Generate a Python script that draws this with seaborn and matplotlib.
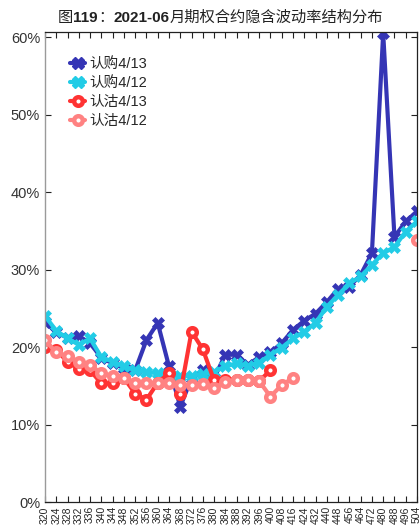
import numpy as np
import pandas as pd
import seaborn as sns
import matplotlib
matplotlib.use("Agg")
import matplotlib.pyplot as plt
from matplotlib.lines import Line2D

# strikes (categorical axis)
strikes = [320, 324, 328, 332, 336, 340, 344, 348, 352, 356, 360, 364, 368, 372,
           376, 380, 384, 388, 392, 396, 400, 408, 416, 424, 432, 440, 448, 456,
           464, 472, 480, 488, 496, 504]

nan = np.nan
# implied vol, percent
call_0413 = [23.2, 21.9, 21.2, 21.4, 20.5, 18.6, 17.9, 17.3, 17.0, 20.9, 23.1, 17.5,
             12.3, 16.0, 17.0, 16.0, 19.0, 19.0, 17.7, 18.7, 19.3, 20.5, 22.2, 23.4,
             24.3, 25.8, 27.5, 27.8, 29.3, 32.1, 60.5, 34.2, 36.2, 37.5]
call_0412 = [24.0, 22.1, 21.1, 20.3, 21.1, 18.7, 18.1, 17.5, 17.0, 16.8, 16.6, 16.5,
             16.2, 16.3, 16.5, 16.8, 17.5, 17.9, 17.6, 18.0, 19.0, 19.9, 21.1, 22.0,
             23.1, 25.2, 26.7, 28.2, 29.1, 30.6, 32.1, 32.9, 34.9, 36.2]
put_0413 = [20.0, 19.6, 18.1, 17.2, 17.0, 15.3, 15.3, 16.0, 14.0, 13.2, 15.4, 16.6,
            14.0, 22.0, 19.7, 15.7, 15.8, 15.8, 15.7, 15.6, 17.0] + [nan] * 13
put_0412 = [20.9, 19.3, 18.8, 18.1, 17.7, 16.6, 16.3, 16.0, 15.4, 15.3, 15.3, 15.3,
            15.1, 15.1, 15.2, 14.7, 15.5, 15.8, 15.7, 15.6, 13.6, 15.1, 16.0] + [nan] * 10 + [33.8]

names = ["认购4/13", "认购4/12", "认沽4/13", "认沽4/12"]
colors = ["#3535B5", "#22CCE6", "#FF3333", "#FF8282"]

sns.set_theme(style="ticks")
plt.rcParams["font.family"] = ["Liberation Sans", "Noto Sans CJK SC", "DejaVu Sans"]

fig = plt.figure(figsize=(4.2, 5.28), dpi=100)
ax = fig.add_axes([45 / 420, 26 / 528, 372 / 420, 470 / 528])

pos = np.arange(len(strikes))


def segments(vals):
    # split series at gaps so the line is not joined across missing strikes
    df = pd.DataFrame({"pos": pos, "val": vals})
    df["seg"] = df["val"].isna().cumsum()
    return df.dropna()


for vals, name, c in zip([call_0413, call_0412, put_0413, put_0412], names, colors):
    df = segments(vals)
    if name.startswith("认购"):
        sty = dict(marker="X", markersize=8.5, markeredgewidth=0.5,
                   markeredgecolor=c, markerfacecolor=c)
    else:
        sty = dict(marker="o", markersize=6.2, markeredgewidth=3.2,
                   markeredgecolor=c, markerfacecolor="white")
    sns.lineplot(data=df, x="pos", y="val", units="seg", estimator=None,
                 color=c, linewidth=3.0, ax=ax, legend=False, **sty)

ax.set_xlim(0, 33)
ax.set_ylim(0, 60.65)
ax.set_xticks(pos)
ax.set_xticklabels([str(s) for s in strikes], rotation=90, fontsize=7.5)
ax.set_yticks(np.arange(0, 61, 10))
ax.set_yticklabels([f"{v}%" for v in range(0, 61, 10)], fontsize=10.5, color="#333333")
ax.set_xlabel("")
ax.set_ylabel("")
ax.tick_params(direction="in", top=True, right=True, length=4, width=0.8, color="#222222")
ax.tick_params(axis="x", pad=3)
for s in ["top", "right", "bottom"]:
    ax.spines[s].set_color("#222222")
    ax.spines[s].set_linewidth(0.9)
ax.spines["left"].set_color("#9a9a9a")
ax.spines["left"].set_linewidth(1.0)

handles = []
for name, c in zip(names, colors):
    if name.startswith("认购"):
        h = Line2D([], [], color=c, lw=3, marker="X", markersize=8.5, markerfacecolor=c)
    else:
        h = Line2D([], [], color=c, lw=3, marker="o", markersize=6.2,
                   markeredgewidth=3.2, markerfacecolor="white", markeredgecolor=c)
    handles.append(h)
ax.legend(handles, names, loc="upper left", bbox_to_anchor=(0.045, 0.965), frameon=False,
          fontsize=10.5, handlelength=1.0, handletextpad=0.3, labelspacing=0.33,
          borderaxespad=0.2)

# title with bold numbers
pieces = [("图", "normal"), ("119", "bold"), ("：", "normal"), ("2021-06", "bold"),
          ("月期权合约隐含波动率结构分布", "normal")]
renderer = fig.canvas.get_renderer()
x = 58
for txt, w in pieces:
    t = fig.text(x / 420, 1 - 18 / 528, txt, fontsize=11, fontweight=w,
                 color="#222222", va="center", ha="left")
    x = t.get_window_extent(renderer).x1

fig.savefig("out.png", dpi=100)
